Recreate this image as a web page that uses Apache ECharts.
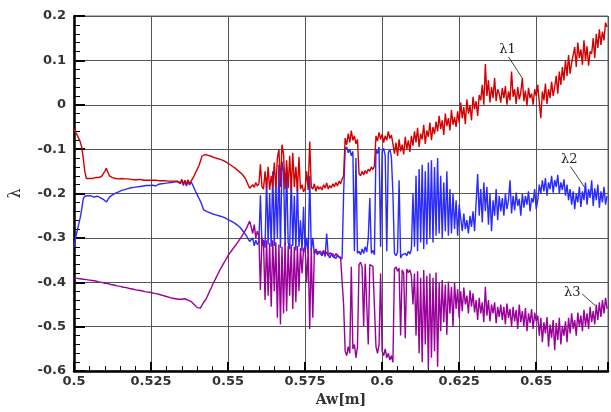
<!DOCTYPE html>
<html>
<head>
<meta charset="utf-8">
<script src="https://cdn.jsdelivr.net/npm/echarts@6/dist/echarts.min.js"></script>
<style>
html,body{margin:0;padding:0;background:#fff;}
#c{width:611px;height:412px;}
</style>
</head>
<body>
<div id="c"></div>
<script>
var X_START = 0.5;
var X_STEP = 0.0005;

var xTicks = [0.5, 0.525, 0.55, 0.575, 0.6, 0.625, 0.65];
var yTicks = [-0.6, -0.5, -0.4, -0.3, -0.2, -0.1, 0, 0.1, 0.2];

var lambda1 = [
-0.054,-0.062,-0.068,-0.075,-0.083,-0.095,-0.120,-0.150,-0.166,-0.167,
-0.166,-0.167,-0.166,-0.165,-0.164,-0.163,-0.164,-0.163,-0.161,-0.158,
-0.150,-0.143,-0.152,-0.160,-0.163,-0.164,-0.165,-0.166,-0.166,-0.167,
-0.167,-0.166,-0.168,-0.167,-0.168,-0.167,-0.169,-0.168,-0.168,-0.169,
-0.168,-0.169,-0.170,-0.168,-0.169,-0.170,-0.169,-0.170,-0.169,-0.170,
-0.169,-0.170,-0.171,-0.170,-0.170,-0.171,-0.170,-0.171,-0.172,-0.171,
-0.171,-0.172,-0.171,-0.172,-0.173,-0.172,-0.173,-0.172,-0.170,-0.176,
-0.168,-0.179,-0.170,-0.180,-0.169,-0.178,-0.172,-0.168,-0.160,-0.152,
-0.145,-0.138,-0.128,-0.116,-0.112,-0.112,-0.113,-0.114,-0.115,-0.116,
-0.117,-0.119,-0.120,-0.121,-0.122,-0.123,-0.124,-0.126,-0.128,-0.130,
-0.132,-0.134,-0.136,-0.139,-0.141,-0.144,-0.147,-0.150,-0.153,-0.156,
-0.160,-0.165,-0.172,-0.180,-0.188,-0.192,-0.180,-0.186,-0.175,-0.183,
-0.178,-0.134,-0.185,-0.190,-0.150,-0.188,-0.140,-0.192,-0.160,-0.185,
-0.130,-0.190,-0.120,-0.100,-0.185,-0.090,-0.110,-0.190,-0.125,-0.188,
-0.115,-0.192,-0.108,-0.185,-0.140,-0.195,-0.118,-0.190,-0.180,-0.196,
-0.188,-0.150,-0.192,-0.083,-0.185,-0.190,-0.178,-0.195,-0.183,-0.190,
-0.185,-0.192,-0.180,-0.188,-0.176,-0.190,-0.182,-0.187,-0.178,-0.185,
-0.175,-0.183,-0.172,-0.178,-0.168,-0.160,-0.075,-0.090,-0.065,-0.085,
-0.058,-0.080,-0.070,-0.088,-0.078,-0.155,-0.160,-0.150,-0.158,-0.148,
-0.155,-0.145,-0.150,-0.140,-0.146,-0.138,-0.070,-0.082,-0.062,-0.078,
-0.066,-0.085,-0.070,-0.080,-0.060,-0.076,-0.068,-0.088,-0.110,-0.085,
-0.115,-0.078,-0.105,-0.090,-0.112,-0.072,-0.100,-0.080,-0.106,-0.070,
-0.092,-0.060,-0.085,-0.052,-0.095,-0.065,-0.078,-0.045,-0.088,-0.058,
-0.072,-0.040,-0.080,-0.050,-0.066,-0.038,-0.060,-0.025,-0.055,-0.035,
-0.068,-0.020,-0.048,-0.030,-0.058,-0.012,-0.045,-0.028,-0.050,-0.015,
-0.040,0.005,-0.030,-0.005,-0.044,0.012,-0.020,-0.002,-0.035,0.018,
-0.010,0.008,-0.025,0.022,0.010,0.045,0.000,0.092,0.020,0.055,
0.005,0.040,0.015,0.060,0.008,0.035,0.025,0.005,0.038,0.015,
0.042,0.000,0.030,0.010,0.075,0.018,0.035,0.002,0.040,0.012,
0.028,0.060,0.008,0.032,-0.002,0.038,0.015,0.025,0.000,0.035,
0.020,0.045,0.005,-0.030,0.030,0.010,0.048,0.002,0.035,0.015,
0.052,0.020,0.040,0.065,0.025,0.075,0.045,0.085,0.055,0.100,
0.065,0.112,0.070,0.095,0.095,0.130,0.085,0.140,0.105,0.125,
0.090,0.145,0.100,0.132,0.088,0.120,0.115,0.150,0.105,0.160,
0.128,0.170,0.135,0.165,0.145,0.185,0.175
];

var lambda2 = [
-0.321,-0.300,-0.285,-0.270,-0.255,-0.235,-0.212,-0.206,-0.205,-0.205,
-0.206,-0.205,-0.206,-0.208,-0.207,-0.206,-0.208,-0.209,-0.210,-0.213,
-0.217,-0.219,-0.214,-0.208,-0.205,-0.203,-0.201,-0.199,-0.197,-0.196,
-0.195,-0.193,-0.192,-0.191,-0.190,-0.189,-0.188,-0.187,-0.186,-0.186,
-0.185,-0.185,-0.184,-0.184,-0.183,-0.183,-0.182,-0.182,-0.182,-0.182,
-0.182,-0.181,-0.181,-0.183,-0.180,-0.179,-0.178,-0.178,-0.177,-0.177,
-0.176,-0.176,-0.175,-0.175,-0.174,-0.174,-0.173,-0.173,-0.172,-0.178,
-0.170,-0.182,-0.171,-0.183,-0.172,-0.181,-0.174,-0.180,-0.188,-0.196,
-0.203,-0.210,-0.217,-0.226,-0.236,-0.238,-0.240,-0.242,-0.243,-0.245,
-0.246,-0.247,-0.248,-0.249,-0.250,-0.251,-0.252,-0.253,-0.255,-0.257,
-0.259,-0.261,-0.262,-0.264,-0.266,-0.268,-0.271,-0.274,-0.277,-0.281,
-0.286,-0.291,-0.296,-0.302,-0.308,-0.312,-0.300,-0.318,-0.305,-0.315,
-0.310,-0.204,-0.318,-0.305,-0.322,-0.165,-0.315,-0.200,-0.320,-0.150,
-0.318,-0.170,-0.300,-0.135,-0.322,-0.128,-0.150,-0.318,-0.140,-0.310,
-0.325,-0.160,-0.318,-0.205,-0.328,-0.175,-0.320,-0.260,-0.330,-0.230,
-0.332,-0.300,-0.335,-0.160,-0.328,-0.300,-0.336,-0.330,-0.338,-0.332,
-0.335,-0.340,-0.330,-0.342,-0.290,-0.338,-0.345,-0.336,-0.342,-0.340,
-0.346,-0.338,-0.344,-0.340,-0.347,-0.200,-0.100,-0.095,-0.108,-0.100,
-0.115,-0.105,-0.330,-0.120,-0.335,-0.330,-0.338,-0.325,-0.335,-0.320,
-0.332,-0.300,-0.210,-0.335,-0.328,-0.338,-0.100,-0.110,-0.095,-0.320,
-0.105,-0.098,-0.115,-0.330,-0.108,-0.100,-0.118,-0.200,-0.335,-0.340,
-0.332,-0.170,-0.345,-0.338,-0.342,-0.335,-0.340,-0.330,-0.336,-0.325,
-0.200,-0.320,-0.160,-0.330,-0.145,-0.310,-0.135,-0.325,-0.150,-0.315,
-0.130,-0.300,-0.125,-0.310,-0.140,-0.295,-0.120,-0.290,-0.160,-0.300,
-0.175,-0.285,-0.150,-0.295,-0.190,-0.290,-0.200,-0.280,-0.215,-0.295,
-0.225,-0.255,-0.285,-0.245,-0.280,-0.260,-0.290,-0.250,-0.275,-0.240,
-0.285,-0.220,-0.156,-0.250,-0.190,-0.265,-0.175,-0.240,-0.185,-0.270,
-0.200,-0.285,-0.215,-0.250,-0.190,-0.260,-0.205,-0.240,-0.210,-0.250,
-0.200,-0.235,-0.215,-0.170,-0.245,-0.205,-0.238,-0.198,-0.228,-0.212,
-0.250,-0.200,-0.232,-0.205,-0.225,-0.195,-0.240,-0.210,-0.220,-0.190,
-0.235,-0.215,-0.180,-0.200,-0.170,-0.195,-0.165,-0.205,-0.175,-0.190,
-0.160,-0.198,-0.170,-0.185,-0.158,-0.200,-0.175,-0.192,-0.168,-0.205,
-0.180,-0.215,-0.190,-0.225,-0.195,-0.235,-0.200,-0.220,-0.185,-0.230,
-0.195,-0.215,-0.175,-0.225,-0.190,-0.210,-0.170,-0.228,-0.188,-0.215,
-0.180,-0.232,-0.195,-0.220,-0.185,-0.225,-0.205
];

var lambda3 = [
-0.390,-0.391,-0.391,-0.392,-0.392,-0.393,-0.393,-0.394,-0.394,-0.395,
-0.395,-0.396,-0.396,-0.397,-0.397,-0.398,-0.399,-0.399,-0.400,-0.401,
-0.402,-0.402,-0.403,-0.404,-0.405,-0.405,-0.406,-0.407,-0.408,-0.408,
-0.409,-0.410,-0.411,-0.411,-0.412,-0.413,-0.414,-0.414,-0.415,-0.416,
-0.417,-0.417,-0.418,-0.419,-0.419,-0.420,-0.421,-0.421,-0.422,-0.422,
-0.423,-0.424,-0.425,-0.425,-0.426,-0.427,-0.428,-0.429,-0.430,-0.431,
-0.432,-0.433,-0.434,-0.435,-0.436,-0.437,-0.437,-0.438,-0.438,-0.437,
-0.438,-0.439,-0.437,-0.439,-0.440,-0.441,-0.443,-0.446,-0.450,-0.454,
-0.457,-0.460,-0.458,-0.452,-0.446,-0.443,-0.436,-0.428,-0.420,-0.413,
-0.405,-0.398,-0.391,-0.384,-0.377,-0.370,-0.364,-0.358,-0.352,-0.346,
-0.340,-0.335,-0.330,-0.325,-0.321,-0.316,-0.311,-0.306,-0.301,-0.296,
-0.290,-0.284,-0.278,-0.270,-0.262,-0.275,-0.290,-0.270,-0.300,-0.285,
-0.295,-0.417,-0.300,-0.310,-0.440,-0.305,-0.430,-0.312,-0.455,-0.305,
-0.420,-0.310,-0.480,-0.315,-0.495,-0.320,-0.470,-0.310,-0.465,-0.318,
-0.430,-0.315,-0.460,-0.320,-0.445,-0.318,-0.420,-0.322,-0.380,-0.325,
-0.320,-0.400,-0.328,-0.505,-0.322,-0.480,-0.330,-0.325,-0.332,-0.328,
-0.330,-0.336,-0.328,-0.338,-0.332,-0.340,-0.334,-0.338,-0.336,-0.342,
-0.335,-0.340,-0.338,-0.344,-0.340,-0.450,-0.555,-0.565,-0.545,-0.560,
-0.365,-0.550,-0.540,-0.570,-0.545,-0.360,-0.355,-0.365,-0.500,-0.358,
-0.362,-0.540,-0.360,-0.356,-0.364,-0.360,-0.545,-0.560,-0.540,-0.380,
-0.555,-0.565,-0.550,-0.570,-0.560,-0.575,-0.565,-0.580,-0.370,-0.365,
-0.375,-0.368,-0.520,-0.372,-0.380,-0.526,-0.370,-0.378,-0.372,-0.385,
-0.450,-0.380,-0.520,-0.375,-0.560,-0.390,-0.580,-0.372,-0.540,-0.385,
-0.595,-0.380,-0.570,-0.390,-0.555,-0.378,-0.590,-0.400,-0.510,-0.395,
-0.490,-0.405,-0.518,-0.398,-0.470,-0.410,-0.500,-0.400,-0.460,-0.415,
-0.480,-0.420,-0.465,-0.412,-0.450,-0.430,-0.470,-0.418,-0.455,-0.425,
-0.468,-0.440,-0.485,-0.435,-0.470,-0.445,-0.490,-0.410,-0.475,-0.440,
-0.488,-0.450,-0.470,-0.445,-0.492,-0.455,-0.478,-0.450,-0.485,-0.455,
-0.495,-0.448,-0.480,-0.460,-0.500,-0.455,-0.488,-0.462,-0.505,-0.450,
-0.490,-0.465,-0.498,-0.458,-0.510,-0.470,-0.492,-0.460,-0.505,-0.468,
-0.488,-0.475,-0.520,-0.480,-0.535,-0.490,-0.515,-0.478,-0.545,-0.495,
-0.525,-0.485,-0.553,-0.492,-0.530,-0.480,-0.540,-0.498,-0.520,-0.488,
-0.535,-0.480,-0.515,-0.470,-0.505,-0.485,-0.520,-0.468,-0.500,-0.475,
-0.510,-0.462,-0.498,-0.470,-0.505,-0.455,-0.490,-0.465,-0.495,-0.450,
-0.485,-0.445,-0.478,-0.440,-0.470,-0.435,-0.460
];

// curve annotations: label text, label anchor, leader line start/end (data coords)
var labelNames = ['λ1', 'λ2', 'λ3'];
var labelAt = [[0.6407, 0.125], [0.6607, -0.124], [0.6617, -0.423]];
var leaderFrom = [[0.6410, 0.108], [0.6611, -0.139], [0.6649, -0.426]];
var leaderTo = [[0.6456, 0.059], [0.6659, -0.188], [0.6691, -0.452]];

function pairs(arr) {
  var out = [];
  for (var i = 0; i < arr.length; i++) {
    out.push([+(X_START + i * X_STEP).toFixed(4), arr[i]]);
  }
  return out;
}

var chart = echarts.init(document.getElementById('c'), null, {renderer: 'canvas'});

var tickFont = {fontFamily: 'DejaVu Sans', fontSize: 13, fontWeight: 'bold', color: '#333'};

var annoPoints = labelNames.map(function (n, k) {
  return {coord: labelAt[k], value: n};
});
var annoLines = labelNames.map(function (n, k) {
  return [{coord: leaderFrom[k]}, {coord: leaderTo[k]}];
});

var option = {
  animation: false,
  backgroundColor: '#fff',
  grid: {left: 70, right: 3, top: 16, bottom: 33, show: true, borderColor: '#666', borderWidth: 1},
  xAxis: {
    type: 'value',
    min: xTicks[0],
    max: 0.6733,
    interval: 0.025,
    name: 'Aw[m]',
    nameLocation: 'middle',
    nameGap: 13,
    nameTextStyle: {fontFamily: 'DejaVu Serif', fontSize: 14, fontWeight: 'bold', color: '#333'},
    axisLine: {show: true, onZero: false, lineStyle: {color: '#000', width: 2.5}},
    axisTick: {show: true, inside: true, length: 9, lineStyle: {color: '#000', width: 2}},
    minorTick: {show: true, splitNumber: 5, length: 5, lineStyle: {color: '#000', width: 1}},
    axisLabel: Object.assign({margin: 4, showMaxLabel: false,
      formatter: function (v) { return String(+v.toFixed(3)); }}, tickFont),
    splitLine: {show: true, lineStyle: {color: '#555', width: 1}}
  },
  yAxis: {
    type: 'value',
    min: yTicks[0],
    max: yTicks[yTicks.length - 1],
    interval: 0.1,
    name: 'λ',
    nameLocation: 'middle',
    nameGap: 50,
    nameTextStyle: {fontFamily: 'DejaVu Serif', fontSize: 16, color: '#333'},
    axisLine: {show: true, onZero: false, lineStyle: {color: '#000', width: 2.5}},
    axisTick: {show: true, inside: true, length: 11, lineStyle: {color: '#000', width: 2}},
    minorTick: {show: true, splitNumber: 5, length: 6, lineStyle: {color: '#000', width: 1}},
    axisLabel: Object.assign({margin: 8,
      formatter: function (v) { return String(+v.toFixed(2)); }}, tickFont),
    splitLine: {show: true, lineStyle: {color: '#555', width: 1}}
  },
  series: [
    {
      name: 'λ2', type: 'line', data: pairs(lambda2), showSymbol: false, symbol: 'none',
      lineStyle: {color: '#2a2aff', width: 1.4}, itemStyle: {color: '#2a2aff'}, z: 2
    },
    {
      name: 'λ3', type: 'line', data: pairs(lambda3), showSymbol: false, symbol: 'none',
      lineStyle: {color: '#9a009a', width: 1.4}, itemStyle: {color: '#9a009a'}, z: 3
    },
    {
      name: 'λ1', type: 'line', data: pairs(lambda1), showSymbol: false, symbol: 'none',
      lineStyle: {color: '#d20000', width: 1.4}, itemStyle: {color: '#d20000'}, z: 4,
      markPoint: {
        symbol: 'circle', symbolSize: 0, silent: true,
        label: {show: true, position: 'inside', formatter: function (p) { return p.value; },
          fontFamily: 'DejaVu Serif', fontSize: 13, color: '#222'},
        data: annoPoints
      },
      markLine: {
        symbol: ['none', 'none'], silent: true,
        label: {show: false},
        lineStyle: {color: '#444', width: 1, type: 'solid'},
        data: annoLines
      }
    }
  ]
};
chart.setOption(option);
</script>
</body>
</html>
